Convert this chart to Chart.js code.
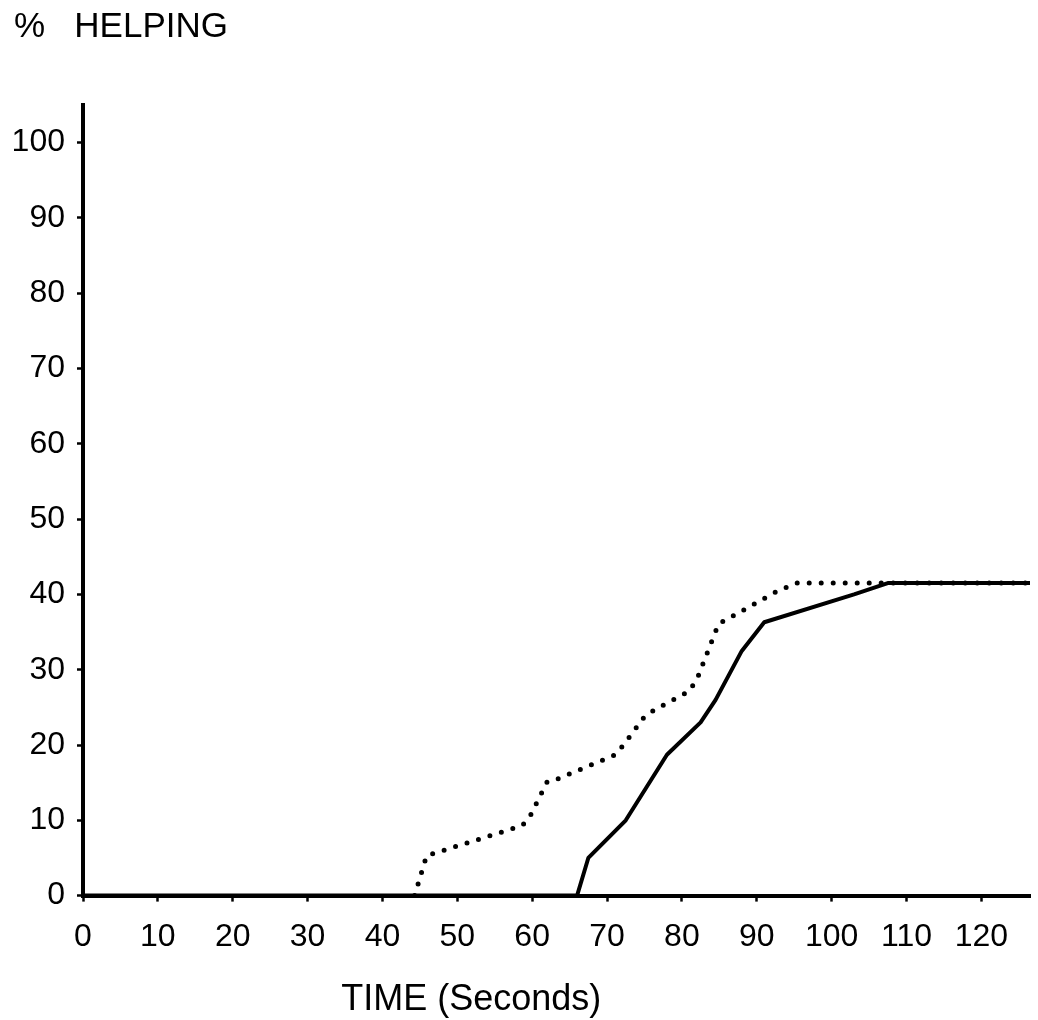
<!DOCTYPE html>
<html>
<head>
<meta charset="utf-8">
<title>% Helping over time</title>
<script src="https://cdn.jsdelivr.net/npm/chart.js@4/dist/chart.umd.min.js"></script>
<style>
  html, body { margin: 0; padding: 0; background: #fff; }
  #wrap { width: 1038px; height: 1020px; }
</style>
</head>
<body>
<div id="wrap"><canvas id="helpChart" width="1038" height="1020"></canvas></div>
<script>
// tick values on each axis
var timeTicks = [0, 10, 20, 30, 40, 50, 60, 70, 80, 90, 100, 110, 120];
var pctTicks = [0, 10, 20, 30, 40, 50, 60, 70, 80, 90, 100];

// solid curve
var solidTime = [0, 66, 67.5, 72.5, 78, 82.5, 84.5, 88, 91, 103, 107.5, 126.5];
var solidPct  = [0, 0, 5, 10, 18.7, 23, 26, 32.5, 36.3, 40, 41.5, 41.5];

// dotted curve (nothing drawn before it leaves the baseline)
var dottedTime = [44.3, 45.9, 58.7, 59.8, 62, 63.4, 71.1, 72.2, 75.1, 76.6, 80.9, 82, 84.9, 86.4, 92.5, 95.2, 126.5];
var dottedPct  = [0, 5.3, 9.3, 10.7, 15.1, 15.5, 18.7, 20, 23.9, 24.8, 27.1, 28.7, 36.1, 36.9, 40.3, 41.5, 41.5];

var fontFamily = "'Liberation Sans', Arial, sans-serif";

function toPoints(xs, ys) {
    return xs.map(function (x, i) { return { x: x, y: ys[i] }; });
}

// x axis title sits left of centre
var timeTitle = {
    id: "timeTitle",
    afterDraw: function (chart) {
        var ctx = chart.ctx;
        var area = chart.chartArea;
        ctx.save();
        ctx.fillStyle = "#000";
        ctx.font = "36px " + fontFamily;
        ctx.textAlign = "center";
        ctx.textBaseline = "middle";
        ctx.fillText("TIME (Seconds)", area.left + (area.right - area.left) * 0.41, 1000);
        ctx.restore();
    }
};

var canvasElement = document.getElementById("helpChart");

var config = {
    type: "line",
    data: {
        datasets: [
            {
                label: "Solid",
                data: toPoints(solidTime, solidPct),
                borderColor: "#000",
                borderWidth: 4,
                pointRadius: 0,
                tension: 0,
                borderJoinStyle: "round"
            },
            {
                label: "Dotted",
                data: toPoints(dottedTime, dottedPct),
                borderColor: "#000",
                borderWidth: 5,
                borderDash: [0, 12],
                borderCapStyle: "round",
                pointRadius: 0,
                tension: 0
            }
        ]
    },
    options: {
        responsive: false,
        animation: false,
        devicePixelRatio: 1,
        layout: { padding: { left: 14, right: 8, top: 0, bottom: 48 } },
        plugins: {
            legend: { display: false },
            tooltip: { enabled: false },
            title: {
                display: true,
                text: "%   HELPING",
                align: "start",
                color: "#000",
                font: { family: fontFamily, size: 35, weight: "normal" },
                padding: { top: 6, bottom: 57 }
            }
        },
        scales: {
            x: {
                type: "linear",
                min: 0,
                max: 126.5,
                afterBuildTicks: function (scale) {
                    scale.ticks = timeTicks.map(function (v) { return { value: v }; });
                },
                grid: {
                    drawOnChartArea: false,
                    drawTicks: true,
                    tickLength: 6,
                    tickWidth: 2.5,
                    tickColor: "#000"
                },
                border: { display: true, color: "#000", width: 4 },
                ticks: {
                    color: "#000",
                    padding: 16,
                    maxRotation: 0,
                    autoSkip: false,
                    font: { family: fontFamily, size: 32 }
                }
            },
            y: {
                type: "linear",
                min: 0,
                max: 105,
                afterBuildTicks: function (scale) {
                    scale.ticks = pctTicks.map(function (v) { return { value: v }; });
                },
                afterFit: function (scale) {
                    scale.width = 69;
                },
                grid: {
                    drawOnChartArea: false,
                    drawTicks: true,
                    tickLength: 6,
                    tickWidth: 2.5,
                    tickColor: "#000"
                },
                border: { display: true, color: "#000", width: 4 },
                ticks: {
                    color: "#000",
                    padding: 12,
                    autoSkip: false,
                    font: { family: fontFamily, size: 32 }
                }
            }
        }
    },
    plugins: [timeTitle]
};

var helpChart = new Chart(canvasElement, config);
</script>
</body>
</html>
